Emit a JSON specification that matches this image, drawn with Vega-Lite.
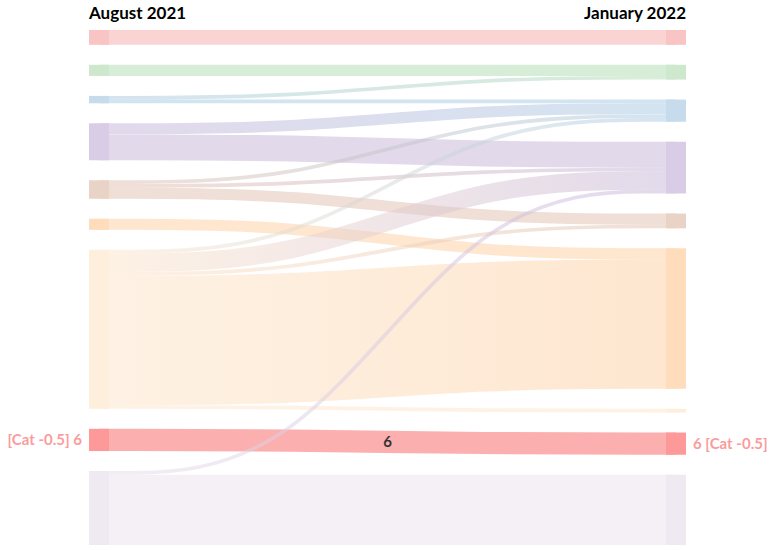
{
  "$schema": "https://vega.github.io/schema/vega-lite/v6.json",
  "width": 577,
  "height": 515,
  "autosize": {"type": "none"},
  "padding": {"left": 99, "top": 30, "right": 96, "bottom": 5},
  "background": "white",
  "config": {"view": {"stroke": null}, "font": "Lato", "text": {"font": "Lato"}, "scale": {"continuousPadding": 0}},
  "datasets": {
    "links": [
      {"from": 1, "to": 1, "value": 4},
      {"from": 2, "to": 2, "value": 3},
      {"from": 3, "to": 2, "value": 1},
      {"from": 3, "to": 3, "value": 1},
      {"from": 4, "to": 3, "value": 3},
      {"from": 4, "to": 4, "value": 7},
      {"from": 5, "to": 3, "value": 1},
      {"from": 5, "to": 4, "value": 1},
      {"from": 5, "to": 5, "value": 3},
      {"from": 6, "to": 6, "value": 3},
      {"from": 7, "to": 3, "value": 1},
      {"from": 7, "to": 4, "value": 5},
      {"from": 7, "to": 5, "value": 1},
      {"from": 7, "to": 6, "value": 35},
      {"from": 7, "to": 7, "value": 1},
      {"from": 8, "to": 8, "value": 6},
      {"from": 9, "to": 4, "value": 1},
      {"from": 9, "to": 9, "value": 19}
    ],
    "headers": [
      {"side": 0, "label": "August 2021"},
      {"side": 1, "label": "January 2022"}
    ]
  },
  "resolve": {"scale": {"x": "independent"}},
  "layer": [
    {
      "data": {"name": "links"},
      "transform": [
        {"window": [{"op": "sum", "field": "value", "as": "cumS"}], "sort": [{"field": "from"}, {"field": "to"}], "frame": [null, 0]},
        {"window": [{"op": "sum", "field": "value", "as": "cumT"}], "sort": [{"field": "to"}, {"field": "from"}], "frame": [null, 0]},
        {"calculate": "datum.cumS - datum.value / 2 + (datum.from - 1) * 5.40845", "as": "a"},
        {"calculate": "datum.a", "as": "b"},
        {"calculate": "datum.cumT - datum.value / 2 + (datum.to - 1) * 5.40845", "as": "d"},
        {"calculate": "datum.d", "as": "c"},
        {"calculate": "datum.from + '-' + datum.to", "as": "id"},
        {"fold": ["a", "b", "c", "d"], "as": ["k", "yy"]}
      ],
      "mark": {"type": "line", "interpolate": "basis", "opacity": 0.5, "strokeCap": "butt"},
      "encoding": {
        "x": {"field": "k", "type": "ordinal", "scale": {"type": "point", "domain": ["a", "b", "c", "d"], "padding": 0}, "axis": null},
        "y": {"field": "yy", "type": "quantitative", "scale": {"domain": [0, 139.2676], "reverse": true, "nice": false, "zero": false}, "axis": null},
        "detail": {"field": "id", "type": "nominal"},
        "size": {"field": "value", "type": "quantitative", "scale": {"type": "linear", "domain": [0, 96], "range": [0, 355], "zero": true}, "legend": null},
        "stroke": {
          "condition": [
            {"test": "datum.id === '3-2'", "value": {"gradient": "linear", "stops": [{"offset": 0, "color": "#a7c9e3"}, {"offset": 1, "color": "#b1dbb1"}]}},
            {"test": "datum.id === '4-3'", "value": {"gradient": "linear", "stops": [{"offset": 0, "color": "#c5b3d7"}, {"offset": 1, "color": "#a7c9e3"}]}},
            {"test": "datum.id === '5-3'", "value": {"gradient": "linear", "stops": [{"offset": 0, "color": "#dfbfad"}, {"offset": 1, "color": "#a7c9e3"}]}},
            {"test": "datum.id === '5-4'", "value": {"gradient": "linear", "stops": [{"offset": 0, "color": "#dfbfad"}, {"offset": 1, "color": "#c5b3d7"}]}},
            {"test": "datum.id === '7-3'", "value": {"gradient": "linear", "stops": [{"offset": 0, "color": "#fde5c9"}, {"offset": 1, "color": "#a7c9e3"}]}},
            {"test": "datum.id === '7-4'", "value": {"gradient": "linear", "stops": [{"offset": 0, "color": "#fde5c9"}, {"offset": 1, "color": "#c5b3d7"}]}},
            {"test": "datum.id === '7-5'", "value": {"gradient": "linear", "stops": [{"offset": 0, "color": "#fde5c9"}, {"offset": 1, "color": "#dfbfad"}]}},
            {"test": "datum.id === '7-6'", "value": {"gradient": "linear", "stops": [{"offset": 0, "color": "#fde5c9"}, {"offset": 1, "color": "#fdcd9f"}]}},
            {"test": "datum.id === '9-4'", "value": {"gradient": "linear", "stops": [{"offset": 0, "color": "#e7ddeb"}, {"offset": 1, "color": "#c5b3d7"}]}}
          ],
          "field": "from", "type": "nominal",
          "scale": {"domain": [1, 2, 3, 4, 5, 6, 7, 8, 9], "range": ["#f5a7a7", "#b1dbb1", "#a7c9e3", "#c5b3d7", "#dfbfad", "#fdcd9f", "#fde5c9", "#f95f5f", "#e9e1ed"]},
          "legend": null
        }
      }
    },
    {
      "data": {"name": "links"},
      "transform": [
        {"window": [{"op": "sum", "field": "value", "as": "cumS"}], "sort": [{"field": "from"}, {"field": "to"}], "frame": [null, 0]},
        {"calculate": "datum.cumS - datum.value + (datum.from - 1) * 5.40845", "as": "top"},
        {"calculate": "datum.cumS + (datum.from - 1) * 5.40845", "as": "bot"},
        {"aggregate": [{"op": "min", "field": "top", "as": "top"}, {"op": "max", "field": "bot", "as": "bot"}], "groupby": ["from"]}
      ],
      "mark": {"type": "bar", "width": 20},
      "encoding": {
        "x": {"datum": 0, "type": "quantitative", "scale": {"domain": [0, 1], "nice": false, "padding": 0}, "axis": null},
        "y": {"field": "top", "type": "quantitative", "scale": {"domain": [0, 139.2676], "reverse": true, "nice": false, "zero": false, "padding": 0}, "axis": null},
        "y2": {"field": "bot"},
        "fill": {"field": "from", "type": "nominal", "scale": {"domain": [1, 2, 3, 4, 5, 6, 7, 8, 9], "range": ["#f8c4c4", "#cde8cd", "#c6dcec", "#d9cce6", "#e8d3c6", "#fedcbc", "#feeedc", "#fe9999", "#efe9f2"]}, "legend": null}
      }
    },
    {
      "data": {"name": "links"},
      "transform": [
        {"window": [{"op": "sum", "field": "value", "as": "cumT"}], "sort": [{"field": "to"}, {"field": "from"}], "frame": [null, 0]},
        {"calculate": "datum.cumT - datum.value + (datum.to - 1) * 5.40845", "as": "top"},
        {"calculate": "datum.cumT + (datum.to - 1) * 5.40845", "as": "bot"},
        {"aggregate": [{"op": "min", "field": "top", "as": "top"}, {"op": "max", "field": "bot", "as": "bot"}], "groupby": ["to"]}
      ],
      "mark": {"type": "bar", "width": 20},
      "encoding": {
        "x": {"datum": 1, "type": "quantitative", "scale": {"domain": [0, 1], "nice": false, "padding": 0}, "axis": null},
        "y": {"field": "top", "type": "quantitative", "scale": {"domain": [0, 139.2676], "reverse": true, "nice": false, "zero": false, "padding": 0}, "axis": null},
        "y2": {"field": "bot"},
        "fill": {"field": "to", "type": "nominal", "scale": {"domain": [1, 2, 3, 4, 5, 6, 7, 8, 9], "range": ["#f8c4c4", "#cde8cd", "#c6dcec", "#d9cce6", "#e8d3c6", "#fedcbc", "#feeedc", "#fe9999", "#efe9f2"]}, "legend": null}
      }
    },
    {
      "data": {"name": "links"},
      "transform": [
        {"window": [{"op": "sum", "field": "value", "as": "cumS"}], "sort": [{"field": "from"}, {"field": "to"}], "frame": [null, 0]},
        {"filter": "datum.from === 8"},
        {"calculate": "datum.cumS - datum.value / 2 + (datum.from - 1) * 5.40845", "as": "mid"}
      ],
      "mark": {"type": "text", "align": "right", "baseline": "middle", "dx": -17, "fontSize": 15, "fontWeight": "bold", "color": "#fa9c9c"},
      "encoding": {
        "x": {"datum": 0, "type": "quantitative", "scale": {"domain": [0, 1], "nice": false, "padding": 0}, "axis": null},
        "y": {"field": "mid", "type": "quantitative", "scale": {"domain": [0, 139.2676], "reverse": true, "nice": false, "zero": false, "padding": 0}, "axis": null},
        "text": {"value": "[Cat -0.5] 6"}
      }
    },
    {
      "data": {"name": "links"},
      "transform": [
        {"window": [{"op": "sum", "field": "value", "as": "cumT"}], "sort": [{"field": "to"}, {"field": "from"}], "frame": [null, 0]},
        {"filter": "datum.to === 8"},
        {"calculate": "datum.cumT - datum.value / 2 + (datum.to - 1) * 5.40845", "as": "mid"}
      ],
      "mark": {"type": "text", "align": "left", "baseline": "middle", "dx": 17, "fontSize": 15, "fontWeight": "bold", "color": "#fa9c9c"},
      "encoding": {
        "x": {"datum": 1, "type": "quantitative", "scale": {"domain": [0, 1], "nice": false, "padding": 0}, "axis": null},
        "y": {"field": "mid", "type": "quantitative", "scale": {"domain": [0, 139.2676], "reverse": true, "nice": false, "zero": false, "padding": 0}, "axis": null},
        "text": {"value": "6 [Cat -0.5]"}
      }
    },
    {
      "data": {"name": "links"},
      "transform": [
        {"window": [{"op": "sum", "field": "value", "as": "cumS"}], "sort": [{"field": "from"}, {"field": "to"}], "frame": [null, 0]},
        {"window": [{"op": "sum", "field": "value", "as": "cumT"}], "sort": [{"field": "to"}, {"field": "from"}], "frame": [null, 0]},
        {"filter": "datum.from === 8 && datum.to === 8"},
        {"calculate": "(datum.cumS - datum.value / 2 + (datum.from - 1) * 5.40845 + datum.cumT - datum.value / 2 + (datum.to - 1) * 5.40845) / 2", "as": "mid"}
      ],
      "mark": {"type": "text", "align": "center", "baseline": "middle", "fontSize": 15, "fontWeight": "bold", "color": "#333333"},
      "encoding": {
        "x": {"datum": 0.5, "type": "quantitative", "scale": {"domain": [0, 1], "nice": false, "padding": 0}, "axis": null},
        "y": {"field": "mid", "type": "quantitative", "scale": {"domain": [0, 139.2676], "reverse": true, "nice": false, "zero": false, "padding": 0}, "axis": null},
        "text": {"field": "value", "type": "quantitative"}
      }
    },
    {
      "data": {"name": "headers"},
      "transform": [{"filter": "datum.side === 0"}],
      "mark": {"type": "text", "align": "left", "baseline": "alphabetic", "dx": -10, "dy": -11, "fontSize": 17, "fontWeight": "bold", "color": "#000000"},
      "encoding": {
        "x": {"field": "side", "type": "quantitative", "scale": {"domain": [0, 1], "nice": false, "padding": 0}, "axis": null},
        "y": {"datum": 0, "type": "quantitative", "scale": {"domain": [0, 139.2676], "reverse": true, "nice": false, "zero": false, "padding": 0}, "axis": null},
        "text": {"field": "label"}
      }
    },
    {
      "data": {"name": "headers"},
      "transform": [{"filter": "datum.side === 1"}],
      "mark": {"type": "text", "align": "right", "baseline": "alphabetic", "dx": 10, "dy": -11, "fontSize": 17, "fontWeight": "bold", "color": "#000000"},
      "encoding": {
        "x": {"field": "side", "type": "quantitative", "scale": {"domain": [0, 1], "nice": false, "padding": 0}, "axis": null},
        "y": {"datum": 0, "type": "quantitative", "scale": {"domain": [0, 139.2676], "reverse": true, "nice": false, "zero": false, "padding": 0}, "axis": null},
        "text": {"field": "label"}
      }
    }
  ]
}
